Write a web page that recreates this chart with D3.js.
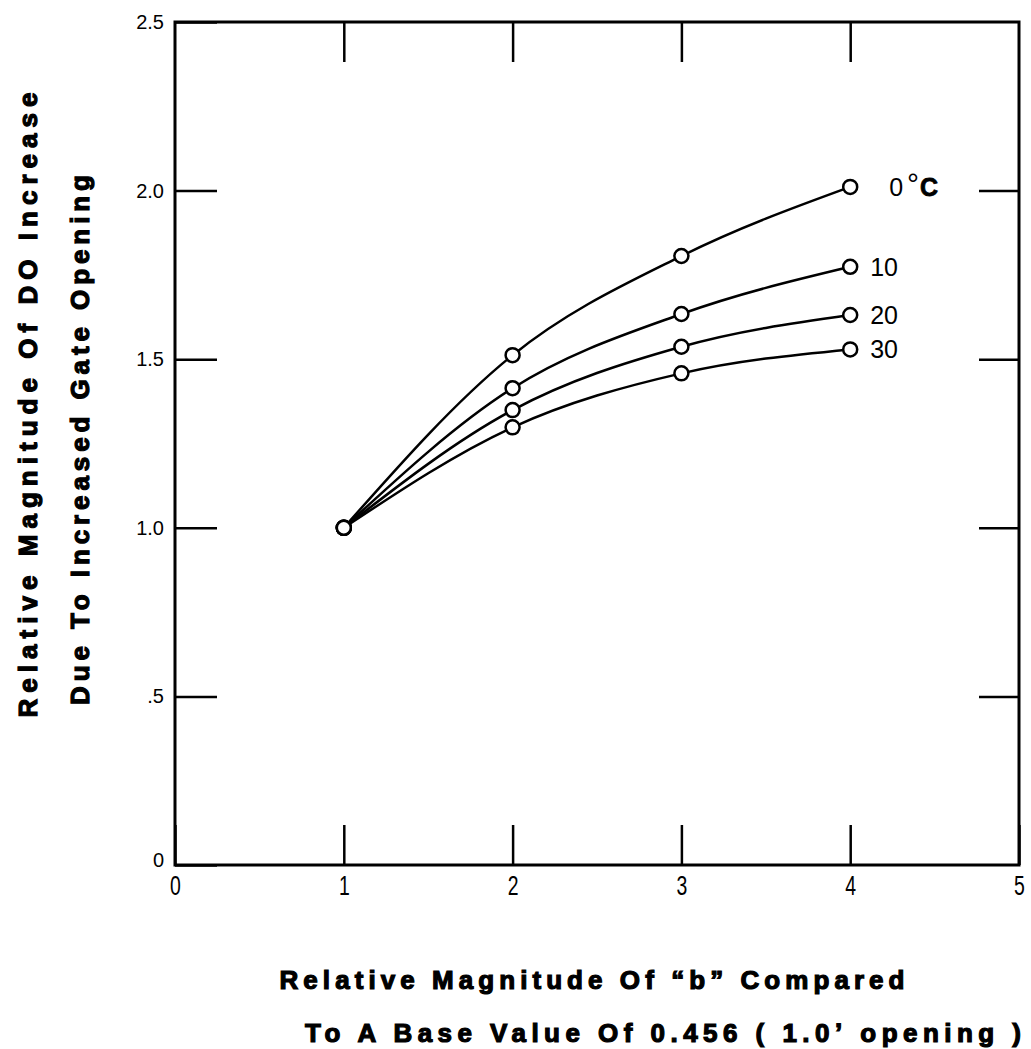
<!DOCTYPE html>
<html>
<head>
<meta charset="utf-8">
<script src="https://cdn.jsdelivr.net/npm/d3@7/dist/d3.min.js"></script>
<style>
  html, body { margin: 0; padding: 0; background: #fff; }
  svg { display: block; }
  text { font-family: "Liberation Sans", Arial, Helvetica, sans-serif; fill: #000; }
</style>
</head>
<body>
<svg id="chart" width="1031" height="1049"></svg>
<script>
// ---- data ----
const xValues = [1, 2, 3, 4];
const seriesNames = ["0", "10", "20", "30"];
const series0 = [1.0, 1.512, 1.806, 2.011];
const series10 = [1.0, 1.414, 1.634, 1.774];
const series20 = [1.0, 1.349, 1.537, 1.631];
const series30 = [1.0, 1.298, 1.458, 1.529];
const xTicks = [0, 1, 2, 3, 4, 5];
const xTickLabels = ["0", "1", "2", "3", "4", "5"];
const yTicks = [0, 0.5, 1.0, 1.5, 2.0, 2.5];
const yTickLabels = ["0", ".5", "1.0", "1.5", "2.0", "2.5"];
const yTitleLines = ["Relative Magnitude Of DO Increase", "Due To Increased Gate Opening"];
const xTitleLines = ["Relative Magnitude Of \u201Cb\u201D Compared", "To A Base Value Of 0.456 ( 1.0\u02BC opening )"];

const allSeries = [series0, series10, series20, series30];

// ---- layout ----
const svg = d3.select("#chart");
const L = 175, R = 1019, T = 22, B = 865;
const x = d3.scaleLinear().domain([0, 5]).range([L, R]);
const y = d3.scaleLinear().domain([0, 2.5]).range([B, T]);

// frame
svg.append("rect")
  .attr("x", L).attr("y", T).attr("width", R - L).attr("height", B - T)
  .attr("fill", "none").attr("stroke", "#000").attr("stroke-width", 3);

// bottom axis
const gB = svg.append("g").attr("transform", `translate(0,${B})`)
  .call(d3.axisBottom(x).tickValues(xTicks).tickSizeInner(-40).tickSizeOuter(0)
    .tickPadding(11).tickFormat((d, i) => xTickLabels[i]));
// top axis (ticks only)
const gT = svg.append("g").attr("transform", `translate(0,${T})`)
  .call(d3.axisTop(x).tickValues(xTicks.slice(1, -1)).tickSizeInner(-40).tickSizeOuter(0)
    .tickFormat(""));
// left axis
const gL = svg.append("g").attr("transform", `translate(${L},0)`)
  .call(d3.axisLeft(y).tickValues(yTicks).tickSizeInner(-42).tickSizeOuter(0)
    .tickPadding(11).tickFormat((d, i) => yTickLabels[i]));
// right axis (ticks only)
const gR = svg.append("g").attr("transform", `translate(${R},0)`)
  .call(d3.axisRight(y).tickValues(yTicks.slice(1, -1)).tickSizeInner(-40).tickSizeOuter(0)
    .tickFormat(""));

[gB, gT, gL, gR].forEach(g => {
  g.attr("font-size", 20).attr("font-family", "Liberation Sans, Arial, sans-serif");
  g.select(".domain").remove();
  g.selectAll(".tick line").attr("stroke", "#000").attr("stroke-width", 2.5);
  g.selectAll("text").attr("font-size", 20).attr("fill", "#000");
});
// x tick labels: tall, condensed digits
gB.selectAll(".tick text").attr("font-size", 27).attr("transform", "scale(0.72,1)");
gL.selectAll(".tick").filter(d => d === 0).select("text").attr("dy", "0.05em");

// ---- curves ----
const line = d3.line()
  .x((d, i) => x(xValues[i]))
  .y(d => y(d))
  .curve(d3.curveMonotoneX);

svg.append("g").selectAll("path").data(allSeries).join("path")
  .attr("d", d => line(d))
  .attr("fill", "none").attr("stroke", "#000").attr("stroke-width", 2.5);

// markers
allSeries.forEach(s => {
  svg.append("g").selectAll("circle").data(s).join("circle")
    .attr("cx", (d, i) => x(xValues[i]))
    .attr("cy", d => y(d))
    .attr("r", 7)
    .attr("fill", "#fff").attr("stroke", "#000").attr("stroke-width", 2.5);
});

// series labels
allSeries.forEach((s, k) => {
  const last = s[s.length - 1];
  if (k === 0) {
    const t = svg.append("text")
      .attr("x", x(4) + 39).attr("y", y(last)).attr("dy", "0.36em")
      .attr("font-size", 25);
    t.append("tspan").text(seriesNames[k]);
    t.append("tspan").attr("dx", 4).attr("dy", "-0.05em").attr("font-size", 30).text("\u00B0");
    t.append("tspan").attr("dy", "0.05em").attr("dx", 1).attr("font-weight", "bold")
      .attr("stroke", "#000").attr("stroke-width", 0.8).text("C");
  } else {
    svg.append("text")
      .attr("x", x(4) + 20).attr("y", y(last)).attr("dy", "0.36em")
      .attr("font-size", 25).text(seriesNames[k]);
  }
});

// ---- axis titles ----
const titleStyle = sel => sel
  .attr("font-size", 26).attr("font-weight", "bold")
  .attr("stroke", "#000").attr("stroke-width", 1.2)
  .attr("lengthAdjust", "spacing");

// y title
[[28, 405, 625], [80, 440, 530]].forEach((p, i) => {
  svg.append("text")
    .attr("transform", `translate(${p[0]},${p[1]}) rotate(-90)`)
    .attr("text-anchor", "middle").attr("dy", "0.36em")
    .attr("textLength", p[2])
    .call(titleStyle)
    .text(yTitleLines[i]);
});

// x title
[[592, 989, 625], [663, 1042, 716]].forEach((p, i) => {
  svg.append("text")
    .attr("x", p[0]).attr("y", p[1])
    .attr("text-anchor", "middle")
    .attr("textLength", p[2])
    .call(titleStyle)
    .text(xTitleLines[i]);
});
</script>
</body>
</html>
